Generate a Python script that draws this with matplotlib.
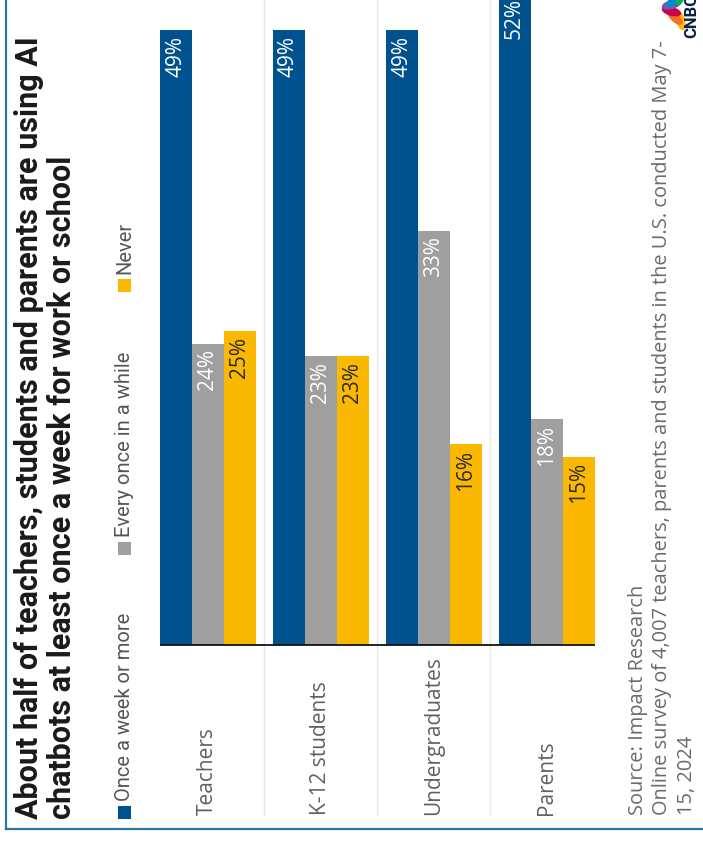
import numpy as np
import matplotlib.pyplot as plt
from matplotlib.patches import Rectangle, Ellipse

# Data
groups = ['Teachers', 'K-12 students', 'Undergraduates', 'Parents']
weekly = [49, 49, 49, 52]
sometimes = [24, 23, 33, 18]
never = [25, 23, 16, 15]
series_names = ['Once a week or more', 'Every once in a while', 'Never']

blue = '#00528f'
grey = '#9f9f9f'
yellow = '#fbb800'
border = '#2b74a6'

W, H = 703, 842
fig = plt.figure(figsize=(W / 100, H / 100), dpi=100)

# overlay axes in pixel coords (y measured from the top)
ov = fig.add_axes([0, 0, 1, 1], zorder=0)
ov.set_xlim(0, W)
ov.set_ylim(H, 0)
ov.axis('off')

# bar axes: baseline at y=645px, 12.55 px per percent
ax = fig.add_axes([150 / W, (H - 645) / H, 455 / W, 645 / H], zorder=2)
ax.patch.set_alpha(0)
px_per_grp = 113.0
ax.set_xlim((150 - 207.5) / px_per_grp, (605 - 207.5) / px_per_grp)
ax.set_ylim(0, 645 / 12.55)
ax.axis('off')

x = np.arange(len(groups))
bw = 32 / px_per_grp
for off, vals, col, tcol in [(-bw, weekly, blue, 'white'),
                             (0, sometimes, grey, 'white'),
                             (bw, never, yellow, '#2a2a2a')]:
    ax.bar(x + off, vals, width=bw, color=col, linewidth=0)
    for xi, v in zip(x + off, vals):
        ax.annotate(f'{v}%', (xi, v), xytext=(0, -4), textcoords='offset points',
                    rotation=90, ha='center', va='top', color=tcol,
                    fontsize=15, family='Open Sans', annotation_clip=False)

# baseline
ax.plot([x[0] - 1.5 * bw, x[-1] + 1.5 * bw], [0, 0], color='#111111', lw=1.3,
        solid_capstyle='butt', clip_on=False)

# separators and category labels
ylow = (645 - 815) / 12.55
for s in x[:-1] + 0.5:
    ax.plot([s, s], [ylow, 60], color='#e8e8e8', lw=1, clip_on=False, zorder=0)
for xi, g in zip(x, groups):
    ax.text(xi, ylow, g, rotation=90, ha='center', va='bottom', color='#606060',
            fontsize=15, family='Open Sans')

# title
ov.text(29, 819, 'About half of teachers, students and parents are using AI',
        rotation=90, ha='center', va='bottom', fontsize=22, fontweight='bold',
        family='Roboto', color='#1a1a1a')
ov.text(62, 819, 'chatbots at least once a week for work or school',
        rotation=90, ha='center', va='bottom', fontsize=22, fontweight='bold',
        family='Roboto', color='#1a1a1a')

# legend
for ystart, name, col in zip([819, 555, 292], series_names, [blue, grey, yellow]):
    ov.add_patch(Rectangle((118, ystart - 13), 13, 13, color=col, lw=0))
    ov.text(124.5, ystart - 18, name, rotation=90, ha='center', va='bottom',
            fontsize=14.5, family='Roboto', color='#555555')

# footer
foot = ['Source: Impact Research',
        'Online survey of 4,007 teachers, parents and students in the U.S. conducted May 7-',
        '15, 2024']
for xf, t in zip([638, 662, 687], foot):
    ov.text(xf, 815, t, rotation=90, ha='center', va='bottom', fontsize=14.4,
            family='Open Sans', color='#6a6a6a')

# CNBC logo (partly cut off at the top)
cx, cy = 684, 8
cols = ['#fcb711', '#f37021', '#cc004c', '#6460aa', '#0089d0', '#0db14b']
for k, c in enumerate(cols):
    th = np.deg2rad(105 + 30 * k)
    ov.add_patch(Ellipse((cx + 13 * np.cos(th), cy + 13 * np.sin(th)), 20, 9,
                         angle=-np.rad2deg(th), color=c, lw=0))
ov.text(692, 38, 'CNBC', rotation=90, ha='center', va='bottom', fontsize=12,
        fontweight='bold', family='Roboto', color='#0a2240')

# border
ov.plot([6, 6], [0, 829], color=border, lw=1.6)
ov.plot([6, W], [829, 829], color=border, lw=1.6)

fig.savefig('out.png', dpi=100)
